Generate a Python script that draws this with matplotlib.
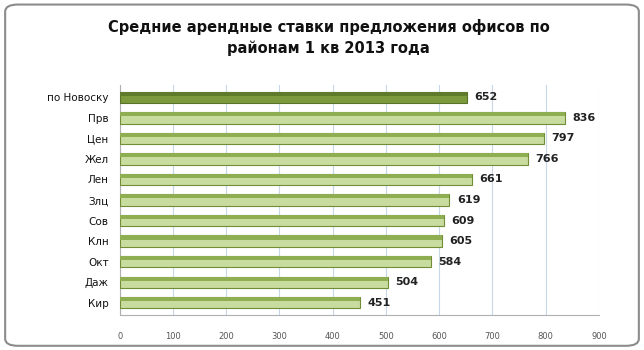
import matplotlib.pyplot as plt
from matplotlib.patches import FancyBboxPatch

# Office rental rates by district, Q1 2013
districts = ['по Новоску', 'Прв', 'Цен', 'Жел', 'Лен', 'Злц', 'Сов', 'Клн', 'Окт', 'Даж', 'Кир']
rates = [652, 836, 797, 766, 661, 619, 609, 605, 584, 504, 451]
x_ticks = [0, 100, 200, 300, 400, 500, 600, 700, 800, 900]

title = 'Средние арендные ставки предложения офисов по\nрайонам 1 кв 2013 года'

fig = plt.figure(figsize=(6.44, 3.5), dpi=100)

# rounded frame around the whole chart
frame = FancyBboxPatch((0.008, 0.012), 0.984, 0.975, boxstyle='round,pad=0,rounding_size=0.02',
                       transform=fig.transFigure, facecolor='white', edgecolor='#8c8c8c',
                       linewidth=1.5, zorder=-1)
fig.patches.append(frame)

ax = fig.add_axes([0.186, 0.1, 0.744, 0.657])
ax.set_facecolor('none')

ypos = list(range(len(districts)))[::-1]
bar_h = 0.55
for i, (y, v) in enumerate(zip(ypos, rates)):
    if i == 0:
        face, top, edge = '#7a9a3c', '#5f7a2a', '#5a7328'
    else:
        face, top, edge = '#c9dc9f', '#8fae52', '#6f8e35'
    ax.barh(y, v, height=bar_h, color=face, edgecolor=edge, linewidth=0.8, zorder=3)
    # darker upper strip for the cylinder look
    ax.barh(y + bar_h * 0.32, v, height=bar_h * 0.36, color=top, linewidth=0, zorder=4)
    ax.text(v + 14, y, str(v), va='center', ha='left', fontsize=8,
            fontweight='bold', color='#222222', zorder=5)

ax.set_xlim(0, 900)
ax.set_ylim(-0.6, len(districts) - 0.4)
ax.set_xticks(x_ticks)
ax.set_xticklabels([str(t) for t in x_ticks], fontsize=6, color='#555555')
ax.set_yticks(ypos)
ax.set_yticklabels(districts, fontsize=7.5, color='#111111')
ax.tick_params(axis='both', length=0)
ax.tick_params(axis='x', pad=12)
ax.tick_params(axis='y', pad=8)
ax.xaxis.grid(True, color='#c8d6e5', linewidth=0.8, zorder=0)
ax.set_axisbelow(True)
for side in ['top', 'right']:
    ax.spines[side].set_visible(False)
ax.spines['left'].set_color('#b0b0b0')
ax.spines['bottom'].set_color('#b0b0b0')

fig.text(0.51, 0.893, title, ha='center', va='center', fontsize=10.5,
         fontweight='bold', color='#111111', linespacing=1.5)

fig.savefig('out.png', dpi=100)
